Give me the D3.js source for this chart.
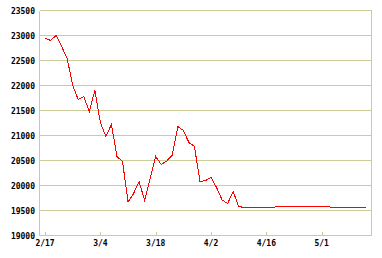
<!DOCTYPE html>
<html>
<head>
<meta charset="utf-8">
<script src="https://cdn.jsdelivr.net/npm/d3@7"></script>
<style>
  body { margin: 0; background: #fff; }
  svg { display: block; }
  text { font-family: "DejaVu Sans Mono", monospace; font-size: 8px; font-weight: bold; fill: #000; }
</style>
</head>
<body>
<svg id="chart"></svg>
<script>
const width = 382;
const height = 258;

// one value per trading day, starting 2/17
const values = [
  22950, 22900, 23000, 22780, 22540, 22000, 21720, 21780, 21480, 21900,
  21260, 20980, 21220, 20580, 20480, 19670, 19840, 20080, 19700, 20140,
  20580, 20420, 20490, 20610, 21180, 21100, 20860, 20780, 20080, 20100,
  20160, 19960, 19710, 19640, 19880, 19580, 19560, 19560, 19560, 19560,
  19560, 19560, 19580, 19580, 19580, 19580, 19580, 19580, 19580, 19580,
  19580, 19580, 19560, 19560, 19560, 19560, 19560, 19560, 19560
];
const tickIndex = [0, 10, 20, 30, 40, 50];
const tickLabels = ['2/17', '3/4', '3/18', '4/2', '4/16', '5/1'];
const yTicks = [19000, 19500, 20000, 20500, 21000, 21500, 22000, 22500, 23000, 23500];

const gridColor = '#cccc99';

const svg = d3.select('#chart')
  .attr('width', width)
  .attr('height', height);

const x = d3.scaleLinear().domain([-1, 59]).range([39.5, 371.5]);
const y = d3.scaleLinear().domain([19000, 23500]).range([235.5, 10.5]);

const frame = svg.append('g').attr('shape-rendering', 'crispEdges');

// horizontal grid
frame.selectAll('line.grid')
  .data(yTicks)
  .enter().append('line')
  .attr('class', 'grid')
  .attr('x1', x(-1)).attr('x2', x(59))
  .attr('y1', d => y(d)).attr('y2', d => y(d))
  .attr('stroke', gridColor);

// left axis and right border
[-1, 59].forEach(v => {
  frame.append('line')
    .attr('x1', x(v)).attr('x2', x(v))
    .attr('y1', y(23500)).attr('y2', y(19000))
    .attr('stroke', gridColor);
});

// x ticks (pointing up into plot)
frame.selectAll('line.xtick')
  .data(tickIndex)
  .enter().append('line')
  .attr('class', 'xtick')
  .attr('x1', d => Math.round(x(d)) + 0.5).attr('x2', d => Math.round(x(d)) + 0.5)
  .attr('y1', y(19000) - 4).attr('y2', y(19000))
  .attr('stroke', gridColor);

// y labels
svg.selectAll('text.ylab')
  .data(yTicks)
  .enter().append('text')
  .attr('class', 'ylab')
  .attr('x', 35)
  .attr('y', d => y(d) + 3)
  .attr('text-anchor', 'end')
  .text(d => d);

// x labels
svg.selectAll('text.xlab')
  .data(tickIndex)
  .enter().append('text')
  .attr('class', 'xlab')
  .attr('x', d => x(d))
  .attr('y', 246)
  .attr('text-anchor', 'middle')
  .text((d, i) => tickLabels[i]);

// price line
svg.append('path')
  .datum(values)
  .attr('fill', 'none')
  .attr('stroke', '#ff0000')
  .attr('stroke-width', 1)
  .attr('shape-rendering', 'crispEdges')
  .attr('d', d3.line()
    .x((d, i) => x(i))
    .y(d => y(d)));
</script>
</body>
</html>
